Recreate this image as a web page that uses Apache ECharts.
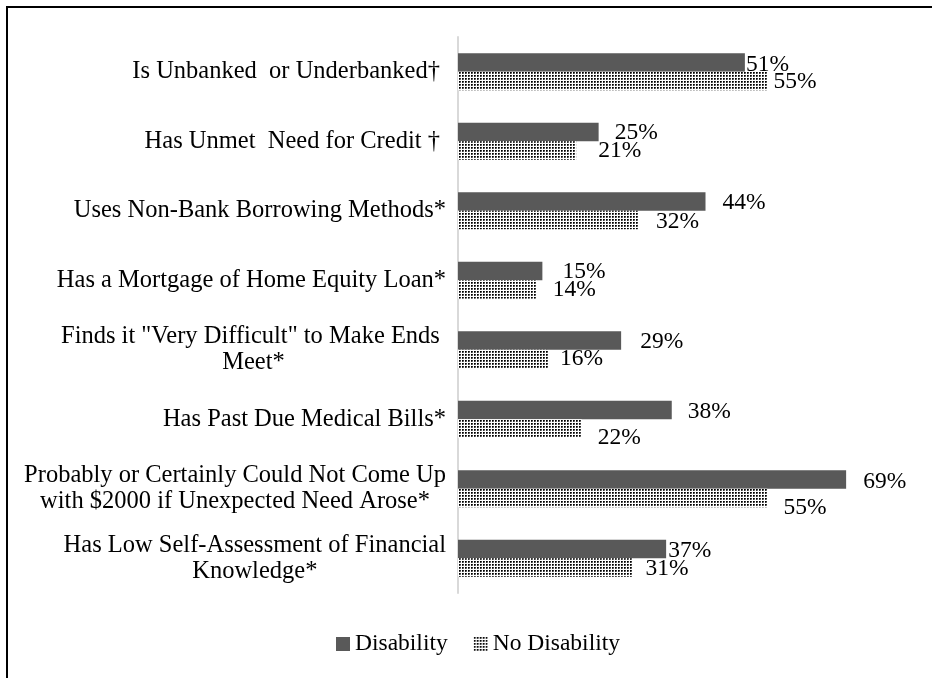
<!DOCTYPE html>
<html>
<head>
<meta charset="utf-8">
<script src="https://cdn.jsdelivr.net/npm/echarts@6/dist/echarts.min.js"></script>
<style>
html,body{margin:0;padding:0;background:#fff;}
#chart{width:932px;height:678px;}
</style>
</head>
<body>
<div id="chart"></div>
<script>
// ---- data ----
const categories = [
  'Is Unbanked  or Underbanked\u2020 ',
  'Has Unmet  Need for Credit \u2020 ',
  'Uses Non-Bank Borrowing Methods*',
  'Has a Mortgage of Home Equity Loan*',
  'Finds it "Very Difficult" to Make Ends \nMeet*',
  'Has Past Due Medical Bills*',
  'Probably or Certainly Could Not Come Up\nwith $2000 if Unexpected Need Arose*',
  'Has Low Self-Assessment of Financial\nKnowledge*'
];
const seriesNames = ['Disability', 'No Disability'];
const disability = [51, 25, 44, 15, 29, 38, 69, 37];
const noDisability = [55, 21, 32, 14, 16, 22, 55, 31];

// label nudges (style only)
const darkLabelShift = [[-15,2],[0,1],[1,1],[4,1],[3,1],[0,2],[1,2],[-14,2]];
const dotLabelShift  = [[-10,1],[6,0],[2,2],[0,0],[-4,0],[0,9],[0,10],[-3,1]];

const FONT = 'Liberation Serif, "Times New Roman", serif';

// dotted pattern
const pat = document.createElement('canvas');
pat.width = 3; pat.height = 3;
const pctx = pat.getContext('2d');
pctx.fillStyle = '#ffffff';
pctx.fillRect(0,0,3,3);
pctx.fillStyle = '#000000';
pctx.fillRect(0,0,1,1);
pctx.fillStyle = '#333333';
pctx.fillRect(1,0,1,1);
pctx.fillRect(0,1,1,1);
pctx.fillStyle = '#777777';
pctx.fillRect(1,1,1,1);

const chart = echarts.init(document.getElementById('chart'), null, {renderer: 'canvas'});

const labelBase = {
  show: true,
  position: 'right',
  distance: 16,
  formatter: '{c}%',
  color: '#000',
  fontFamily: FONT,
  fontSize: 23.5
};

chart.setOption({
  backgroundColor: '#fff',
  animation: false,
  graphic: [{
    type: 'rect',
    shape: {x: 7, y: 7, width: 1000, height: 1000},
    style: {fill: 'none', stroke: '#000', lineWidth: 2},
    silent: true
  }],
  legend: {
    left: 336,
    top: 632,
    padding: 0,
    itemWidth: 14,
    itemHeight: 14,
    itemGap: 26,
    icon: 'rect',
    textStyle: {fontFamily: FONT, fontSize: 23.5, color: '#000'},
    data: seriesNames
  },
  grid: {left: 458, top: 37, right: 24, bottom: 85, containLabel: false},
  xAxis: {
    type: 'value', min: 0, max: 80, show: false
  },
  yAxis: {
    type: 'category',
    inverse: true,
    data: categories,
    axisLine: {show: true, lineStyle: {color: '#d9d9d9', width: 2}},
    axisTick: {show: false},
    axisLabel: {
      margin: 12,
      color: '#000',
      fontFamily: FONT,
      fontSize: 24.5,
      lineHeight: 26,
      formatter: function (v) {
        return v.split('\n').map(function (l) { return '{c|' + l + '}'; }).join('\n');
      },
      rich: {c: {align: 'center', fontFamily: FONT, fontSize: 24.5, lineHeight: 26, color: '#000'}}
    }
  },
  series: [
    {
      name: seriesNames[0],
      type: 'bar',
      barGap: '0%',
      barCategoryGap: '47%',
      itemStyle: {color: '#595959'},
      data: disability.map(function (v, i) {
        return {value: v, label: {offset: darkLabelShift[i]}};
      }),
      label: labelBase
    },
    {
      name: seriesNames[1],
      type: 'bar',
      barGap: '0%',
      barCategoryGap: '47%',
      itemStyle: {color: {image: pat, repeat: 'repeat'}},
      data: noDisability.map(function (v, i) {
        return {value: v, label: {offset: dotLabelShift[i]}};
      }),
      label: labelBase
    }
  ]
});
</script>
</body>
</html>
